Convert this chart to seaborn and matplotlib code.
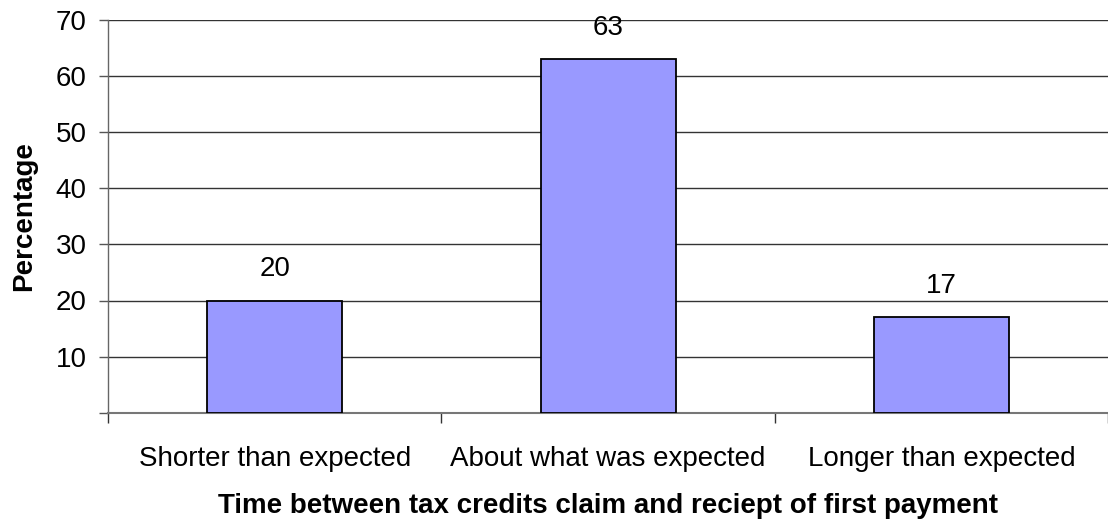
import matplotlib
matplotlib.use("Agg")
import matplotlib.pyplot as plt
import pandas as pd
import seaborn as sns
from matplotlib.ticker import FixedLocator

# Data
categories = ["Shorter than expected", "About what was expected", "Longer than expected"]
percentages = [20, 63, 17]
y_ticks = [0, 10, 20, 30, 40, 50, 60, 70]
y_labels = ["", "10", "20", "30", "40", "50", "60", "70"]

df = pd.DataFrame({"category": categories, "pct": percentages})

sns.set_style("white")
plt.rcParams["font.family"] = ["Liberation Sans", "DejaVu Sans"]
plt.rcParams["text.color"] = "black"
plt.rcParams["xtick.color"] = "black"
plt.rcParams["ytick.color"] = "black"
plt.rcParams["axes.labelcolor"] = "black"

fig = plt.figure(figsize=(11.08, 5.19), dpi=100)
ax = fig.add_axes([108 / 1108, 1 - 412.7 / 519, 1000 / 1108, 392.7 / 519])

sns.barplot(data=df, x="category", y="pct", color="#9999FF", saturation=1,
            width=0.405, edgecolor="black", linewidth=1.3, ax=ax, zorder=3)

ax.set_ylim(0, 70)
ax.set_xlim(-0.5, 2.5)
ax.set_yticks(y_ticks)
ax.set_yticklabels(y_labels, fontsize=20)
ax.yaxis.grid(True, color="#333333", linewidth=1)
ax.set_axisbelow(True)

# category separator ticks
ax.xaxis.set_minor_locator(FixedLocator([-0.5, 0.5, 1.5, 2.5]))
ax.tick_params(axis="x", which="minor", bottom=True, length=7, width=1,
               color="#333333", direction="out")
ax.tick_params(axis="x", which="major", bottom=True, length=0, pad=24, labelsize=20)
ax.tick_params(axis="y", left=True, length=6.5, width=1, color="#555555",
               direction="out", pad=9)

for s in ["top", "right"]:
    ax.spines[s].set_visible(False)
ax.spines["left"].set_color("#666666")
ax.spines["bottom"].set_color("#777777")
ax.spines["left"].set_linewidth(1)
ax.spines["bottom"].set_linewidth(1.5)

for i, v in enumerate(percentages):
    ax.annotate(str(v), (i, v), xytext=(0, 13), textcoords="offset points",
                ha="center", va="bottom", fontsize=20)

ax.set_xlabel("Time between tax credits claim and reciept of first payment",
              fontsize=20, fontweight="bold", labelpad=15)
ax.set_ylabel("Percentage", fontsize=20, fontweight="bold", labelpad=13)

fig.savefig("out.png", dpi=100)
